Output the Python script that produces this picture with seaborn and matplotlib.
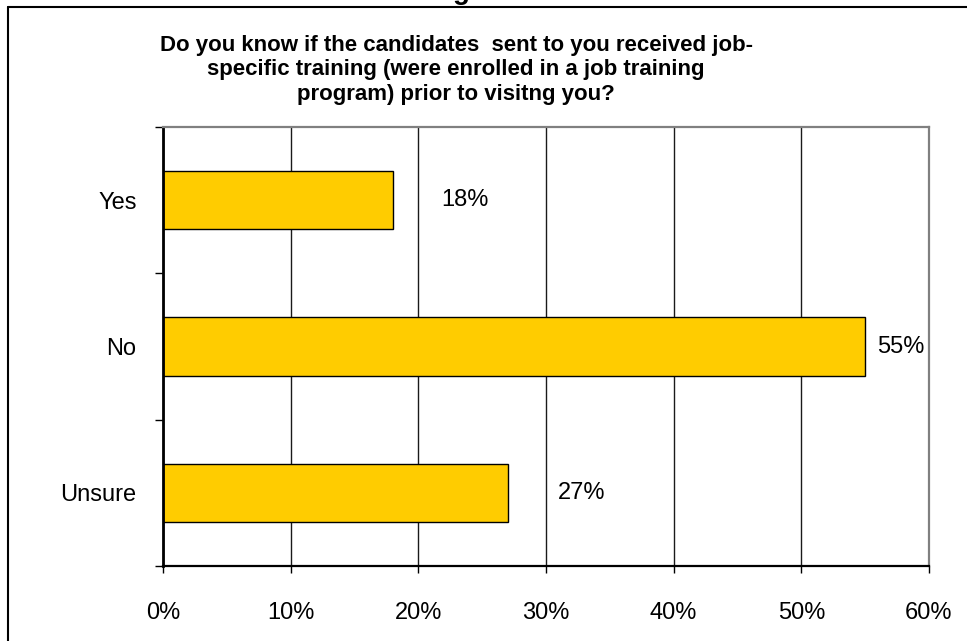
import matplotlib
matplotlib.use("Agg")
import matplotlib.pyplot as plt
import matplotlib.ticker as mticker
from matplotlib.lines import Line2D
import seaborn as sns
import pandas as pd

# Survey answers and share of respondents (%)
answers = ["Yes", "No", "Unsure"]
shares = [18, 55, 27]
x_ticks = [0, 10, 20, 30, 40, 50, 60]

question = ("Do you know if the candidates  sent to you received job-\n"
            "specific training (were enrolled in a job training\n"
            "program) prior to visitng you?")

sns.set_theme(style="white")
plt.rcParams["font.family"] = ["Liberation Sans", "DejaVu Sans"]

W, H = 967, 641
fig = plt.figure(figsize=(W / 100, H / 100), dpi=100)
ax = fig.add_axes([163 / W, 1 - 566 / H, (929 - 163) / W, (566 - 127) / H])

df = pd.DataFrame({"answer": answers, "share": shares})
sns.barplot(data=df, y="answer", x="share", orient="h", color="#FFCC00",
            saturation=1, edgecolor="black", linewidth=1.0, width=0.4, ax=ax)

ax.set_xlim(0, 60)
ax.set_ylim(2.5, -0.5)
ax.set_xticks(x_ticks)
ax.xaxis.set_major_formatter(mticker.FuncFormatter(lambda v, _: f"{v:.0f}%"))
ax.set_xlabel("")
ax.set_ylabel("")

# vertical gridlines
ax.grid(axis="x", color="#1a1a1a", linewidth=1.0)
ax.grid(axis="y", visible=False)
ax.set_axisbelow(True)

# category boundary ticks on the y axis
ax.set_yticks([-0.5, 0.5, 1.5, 2.5], minor=True)
ax.tick_params(axis="y", which="major", length=0, pad=19, labelsize=17,
               labelcolor="black")
ax.tick_params(axis="y", which="minor", left=True, length=6, width=1.0,
               color="black", direction="out")
ax.tick_params(axis="x", which="major", bottom=True, length=5, width=1.0,
               color="black", direction="out", pad=21, labelsize=17,
               labelcolor="black")

for side in ["left", "bottom"]:
    ax.spines[side].set_color("black")
ax.spines["left"].set_linewidth(2.0)
ax.spines["bottom"].set_linewidth(1.6)
for side in ["top", "right"]:
    ax.spines[side].set_visible(True)
    ax.spines[side].set_color("#808080")
    ax.spines[side].set_linewidth(1.6)

# value labels
label_offsets = [3.8, 0.9, 3.9]
for i, (v, off) in enumerate(zip(shares, label_offsets)):
    ax.text(v + off, i, f"{v}%", va="center", ha="left", fontsize=17,
            color="black")

# question heading
fig.text(456 / W, 1 - 70 / H, question, ha="center", va="center",
         fontsize=16, fontweight="bold", multialignment="center",
         linespacing=1.2, color="black")

# descender of the sheet heading above the chart frame
fig.text(461 / W, 1 + 1 / H, "g", ha="center", va="baseline",
         fontsize=20, fontweight="bold", color="black")

# chart frame
fig.add_artist(Line2D([8 / W, 8 / W], [-0.05, 1 - 7 / H], transform=fig.transFigure,
                      color="black", linewidth=1.5))
fig.add_artist(Line2D([8 / W, 1.05], [1 - 7 / H, 1 - 7 / H], transform=fig.transFigure,
                      color="black", linewidth=1.5))

fig.savefig("out.png", dpi=100, facecolor="white")
